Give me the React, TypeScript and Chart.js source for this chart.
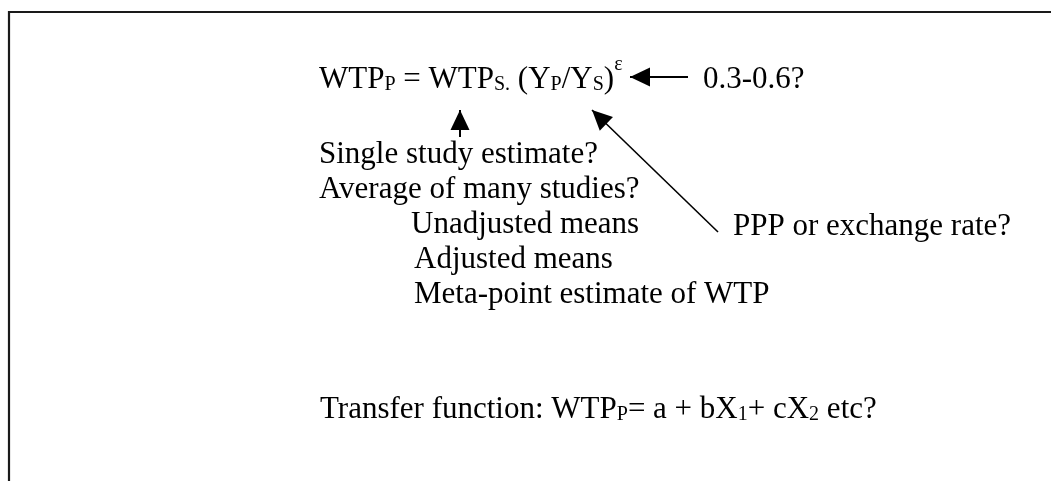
import React, { useEffect, useRef } from "react";
import { Chart, registerables } from "chart.js";

Chart.register(...registerables);

// ---- data ----
const frameX = [9, 9, 1051];
const frameY = [481, 12, 12];

const arrowNames = ["elasticity", "wtpSource", "conversion"];
const arrowTailX = [688, 460, 718];
const arrowTailY = [77, 137, 232];
const arrowTipX = [630, 460, 592];
const arrowTipY = [77, 110, 110];

const labelTexts = [
  "0.3-0.6?",
  "Single study estimate?",
  "Average of many studies?",
  "Unadjusted means",
  "Adjusted means",
  "Meta-point estimate of WTP",
  "PPP or exchange rate?",
];
const labelX = [703, 319, 319, 411, 414, 414, 733];
const labelY = [88, 163, 198, 233, 268, 303, 235];

const formulaText = ["WTP", "P", " = WTP", "S.", " (Y", "P", "/Y", "S", ")", "\u03B5"];
const formulaRole = ["n", "sub", "n", "sub", "n", "sub", "n", "sub", "n", "sup"];
const formulaX = 319;
const formulaY = 88;

const transferText = ["Transfer function: WTP", "P", "= a + bX", "1", "+ cX", "2", " etc?"];
const transferRole = ["n", "sub", "n", "sub", "n", "sub", "n"];
const transferX = 320;
const transferY = 418;

// ---- styles ----
const FONT = '"Liberation Serif", "Times New Roman", serif';
const MAIN_SIZE = 31;
const SMALL_SIZE = 20;
const INK = "#000000";

const textPlugin = {
  id: "diagramText",
  afterDatasetsDraw(chart: any) {
    const ctx = chart.ctx as CanvasRenderingContext2D;
    const xs = chart.scales.x;
    const ys = chart.scales.y;
    ctx.save();
    ctx.fillStyle = INK;
    ctx.textBaseline = "alphabetic";
    ctx.textAlign = "left";

    // arrowheads
    arrowNames.forEach((_, i) => {
      const meta = chart.getDatasetMeta(i + 1);
      const p0 = meta.data[0];
      const p1 = meta.data[1];
      const ang = Math.atan2(p1.y - p0.y, p1.x - p0.x);
      const L = 20;
      const W = 9.5;
      const bx = p1.x - L * Math.cos(ang);
      const by = p1.y - L * Math.sin(ang);
      const px = -Math.sin(ang) * W;
      const py = Math.cos(ang) * W;
      ctx.beginPath();
      ctx.moveTo(p1.x, p1.y);
      ctx.lineTo(bx + px, by + py);
      ctx.lineTo(bx - px, by - py);
      ctx.closePath();
      ctx.fill();
    });

    ctx.font = `${MAIN_SIZE}px ${FONT}`;
    labelTexts.forEach((t, i) => {
      ctx.fillText(t, xs.getPixelForValue(labelX[i]), ys.getPixelForValue(labelY[i]));
    });

    const drawRich = (texts: string[], roles: string[], x0: number, y0: number) => {
      let x = xs.getPixelForValue(x0);
      const y = ys.getPixelForValue(y0);
      texts.forEach((t, i) => {
        const r = roles[i];
        let dy = 0;
        if (r === "n") {
          ctx.font = `${MAIN_SIZE}px ${FONT}`;
        } else {
          ctx.font = `${SMALL_SIZE}px ${FONT}`;
          dy = r === "sub" ? 2 : -18;
        }
        ctx.fillText(t, x, y + dy);
        x += ctx.measureText(t).width;
      });
    };
    drawRich(formulaText, formulaRole, formulaX, formulaY);
    drawRich(transferText, transferRole, transferX, transferY);
    ctx.restore();
  },
};

export default function App() {
  const ref = useRef<HTMLCanvasElement | null>(null);
  useEffect(() => {
    if (!ref.current) return;
    const datasets: any[] = [
      {
        label: "frame",
        data: frameX.map((x, i) => ({ x, y: frameY[i] })),
        borderColor: "#1a1a1a",
        borderWidth: 2.2,
        pointRadius: 0,
        showLine: true,
        clip: false,
      },
      ...arrowNames.map((name, i) => ({
        label: name,
        data: [
          { x: arrowTailX[i], y: arrowTailY[i] },
          { x: arrowTipX[i], y: arrowTipY[i] },
        ],
        borderColor: INK,
        borderWidth: i === 2 ? 1.6 : 2,
        pointRadius: 0,
        showLine: true,
        clip: false,
      })),
    ];
    const chart = new Chart(ref.current, {
      type: "scatter",
      data: { datasets },
      options: {
        animation: false,
        responsive: true,
        maintainAspectRatio: false,
        devicePixelRatio: 1,
        layout: { padding: 0 },
        events: [],
        plugins: { legend: { display: false }, tooltip: { enabled: false } },
        scales: {
          x: { type: "linear", min: 0, max: 1051, display: false },
          y: { type: "linear", min: 0, max: 481, reverse: true, display: false },
        },
      },
      plugins: [textPlugin],
    });
    return () => chart.destroy();
  }, []);
  return (
    <div style={{ position: "fixed", left: 0, top: 0, width: 1051, height: 481, background: "#fff" }}>
      <canvas ref={ref} />
    </div>
  );
}
